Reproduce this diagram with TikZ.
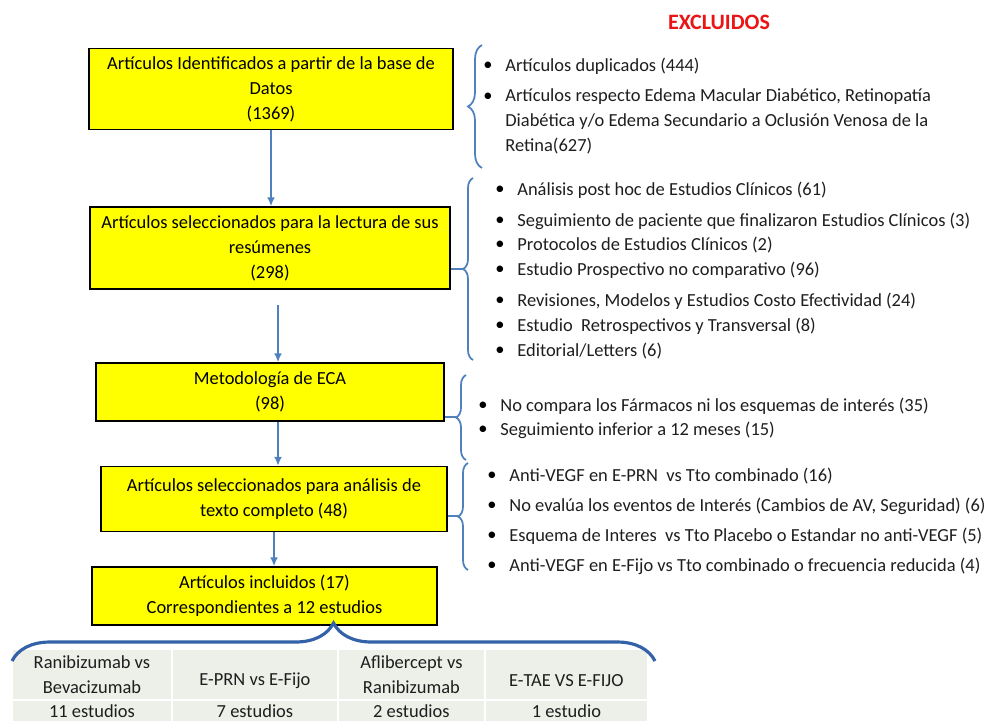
\documentclass[tikz,border=0pt]{standalone}
\usepackage{fontspec}
\setmainfont{Carlito}
\usetikzlibrary{positioning,calc,arrows.meta,decorations.pathreplacing}
\definecolor{B}{RGB}{79,129,189}
\definecolor{DB}{RGB}{52,98,168}
\definecolor{Y}{RGB}{255,255,0}
\definecolor{R}{RGB}{235,20,20}
\definecolor{G}{RGB}{237,239,233}
\definecolor{T}{RGB}{30,30,30}
\tikzset{%
  arrow/.style = {
    -{Latex[length=5pt,width=4.5pt]},
    draw = B,
    line width = 0.9pt,
  },
  ybox/.style = {
    draw = black,
    fill = Y,
    line width = 1pt,
    align = center,
    inner sep = 0pt,
  },
  brc/.style = {
    draw = B,
    line width = 1pt,
    decorate,
    decoration = {brace, amplitude = #1},
  },
  brc/.default = {0.2cm},
  item/.style = {
    anchor = west,
    inner sep = 0pt,
    text = T,
    label = {[bul]left:\textbullet},
  },
  cont/.style = {
    anchor = west,
    inner sep = 0pt,
    text = T,
  },
  bul/.style = {
    label distance = 0.24cm,
    inner sep = 0pt,
    text = black,
  },
  cell/.style = {
    fill = G,
    draw = white,
    line width = 1pt,
    outer sep = 0pt,
    inner sep = 0pt,
    align = center,
    text = T,
    minimum width = #1,
  },
}

\begin{document}
\begin{tikzpicture}[
    x = 0.02cm,
    y = -0.02cm,
    every node/.append style = { font = \fontsize{10.5}{14.2}\selectfont },
  ]
  \useasboundingbox (0,0) rectangle (989,723);

  \node[text = R, font = \fontsize{12.5}{15}\selectfont\bfseries] (excl) at (719,22) {EXCLUIDOS};

  % flujo principal
  \node[ybox, minimum width = 7.28cm, minimum height = 1.62cm] (ident) at (271,89)
    {Artículos Identificados a partir de la base de\\Datos\\(1369)};
  \node[ybox, minimum width = 7.2cm, minimum height = 1.64cm] (resum) at (270,248)
    {Artículos seleccionados para la lectura de sus\\resúmenes\\(298)};
  \node[ybox, minimum width = 6.96cm, minimum height = 1.16cm] (metod) at (270,392)
    {Metodología de ECA\\(98)};
  \node[ybox, minimum width = 6.92cm, minimum height = 1.3cm] (texto) at (274,499)
    {Artículos seleccionados para análisis de\\texto completo (48)};
  \node[ybox, minimum width = 6.9cm, minimum height = 1.16cm] (incl) at (264.5,596)
    {Artículos incluidos (17)\\Correspondientes a 12 estudios};

  \draw[arrow] (ident) -- (ident.south |- resum.north);
  \draw[arrow, shorten <= 0.3cm] ([xshift = 0.16cm]resum.south) -- ([xshift = 0.16cm]resum.south |- metod.north);
  \draw[arrow] ([xshift = 0.16cm]metod.south) -- ([xshift = 0.16cm]metod.south |- texto.north);
  \draw[arrow] (texto) -- (texto.south |- incl.north);

  % excluidos
  \draw[brc = 0.28cm] (482,168) -- (482,45);
  \node[item] (e11) at (505,66) {Artículos duplicados (444)};
  \node[item] (e12) at (505,97) {Artículos respecto Edema Macular Diabético, Retinopatía};
  \node[cont] (e13) at (505,122) {Diabética y/o Edema Secundario a Oclusión Venosa de la};
  \node[cont] (e14) at (505,146) {Retina(627)};

  \draw[brc] (473,360) -- (473,178);
  \coordinate (t2) at (463,269);
  \draw[B, line width = 1pt] (resum.east |- t2) -- (t2);
  \node[item] (e21) at (517,190) {Análisis post hoc de Estudios Clínicos (61)};
  \node[item] (e22) at (517,221) {Seguimiento de paciente que finalizaron Estudios Clínicos (3)};
  \node[item] (e23) at (517,245) {Protocolos de Estudios Clínicos (2)};
  \node[item] (e24) at (517,270) {Estudio Prospectivo no comparativo (96)};
  \node[item] (e25) at (517,301) {Revisiones, Modelos y Estudios Costo Efectividad (24)};
  \node[item] (e26) at (517,326) {Estudio \ Retrospectivos y Transversal (8)};
  \node[item] (e27) at (517,351) {Editorial/Letters (6)};

  \draw[brc] (466,460) -- (466,375);
  \coordinate (t3) at (456,417);
  \draw[B, line width = 1pt] (metod.east |- t3) -- (t3);
  \node[item] (e31) at (500,406) {No compara los Fármacos ni los esquemas de interés (35)};
  \node[item] (e32) at (500,430) {Seguimiento inferior a 12 meses (15)};

  \draw[brc] (468,570) -- (468,463);
  \coordinate (t4) at (458,516);
  \draw[B, line width = 1pt] (texto.east |- t4) -- (t4);
  \node[item] (e41) at (509,476) {Anti-VEGF en E-PRN \ vs Tto combinado (16)};
  \node[item] (e42) at (509,506) {No evalúa los eventos de Interés (Cambios de AV, Seguridad) (6)};
  \node[item] (e43) at (509,536) {Esquema de Interes \ vs Tto Placebo o Estandar no anti-VEGF (5)};
  \node[item] (e44) at (509,566) {Anti-VEGF en E-Fijo vs Tto combinado o frecuencia reducida (4)};

  % estudios incluidos
  \node[cell = 3.2cm, minimum height = 1.02cm, anchor = north west] (c11) at (12,649) {Ranibizumab vs\\Bevacizumab};
  \node[cell = 3.32cm, minimum height = 1.02cm, right = 0pt of c11] (c12) {\mbox{}\\E-PRN vs E-Fijo};
  \node[cell = 2.94cm, minimum height = 1.02cm, right = 0pt of c12] (c13) {Aflibercept vs\\Ranibizumab};
  \node[cell = 3.26cm, minimum height = 1.02cm, right = 0pt of c13] (c14) {\mbox{}\\E-TAE VS E-FIJO};
  \node[cell = 3.2cm, minimum height = 0.44cm, below = 0pt of c11] (c21) {11 estudios};
  \node[cell = 3.32cm, minimum height = 0.44cm, below = 0pt of c12] (c22) {7 estudios};
  \node[cell = 2.94cm, minimum height = 0.44cm, below = 0pt of c13] (c23) {2 estudios};
  \node[cell = 3.26cm, minimum height = 0.44cm, below = 0pt of c14] (c24) {1 estudio};

  \draw[brc = 0.76cm, draw = DB, line width = 1.8pt] (12,661) -- (655,661);
\end{tikzpicture}
\end{document}
